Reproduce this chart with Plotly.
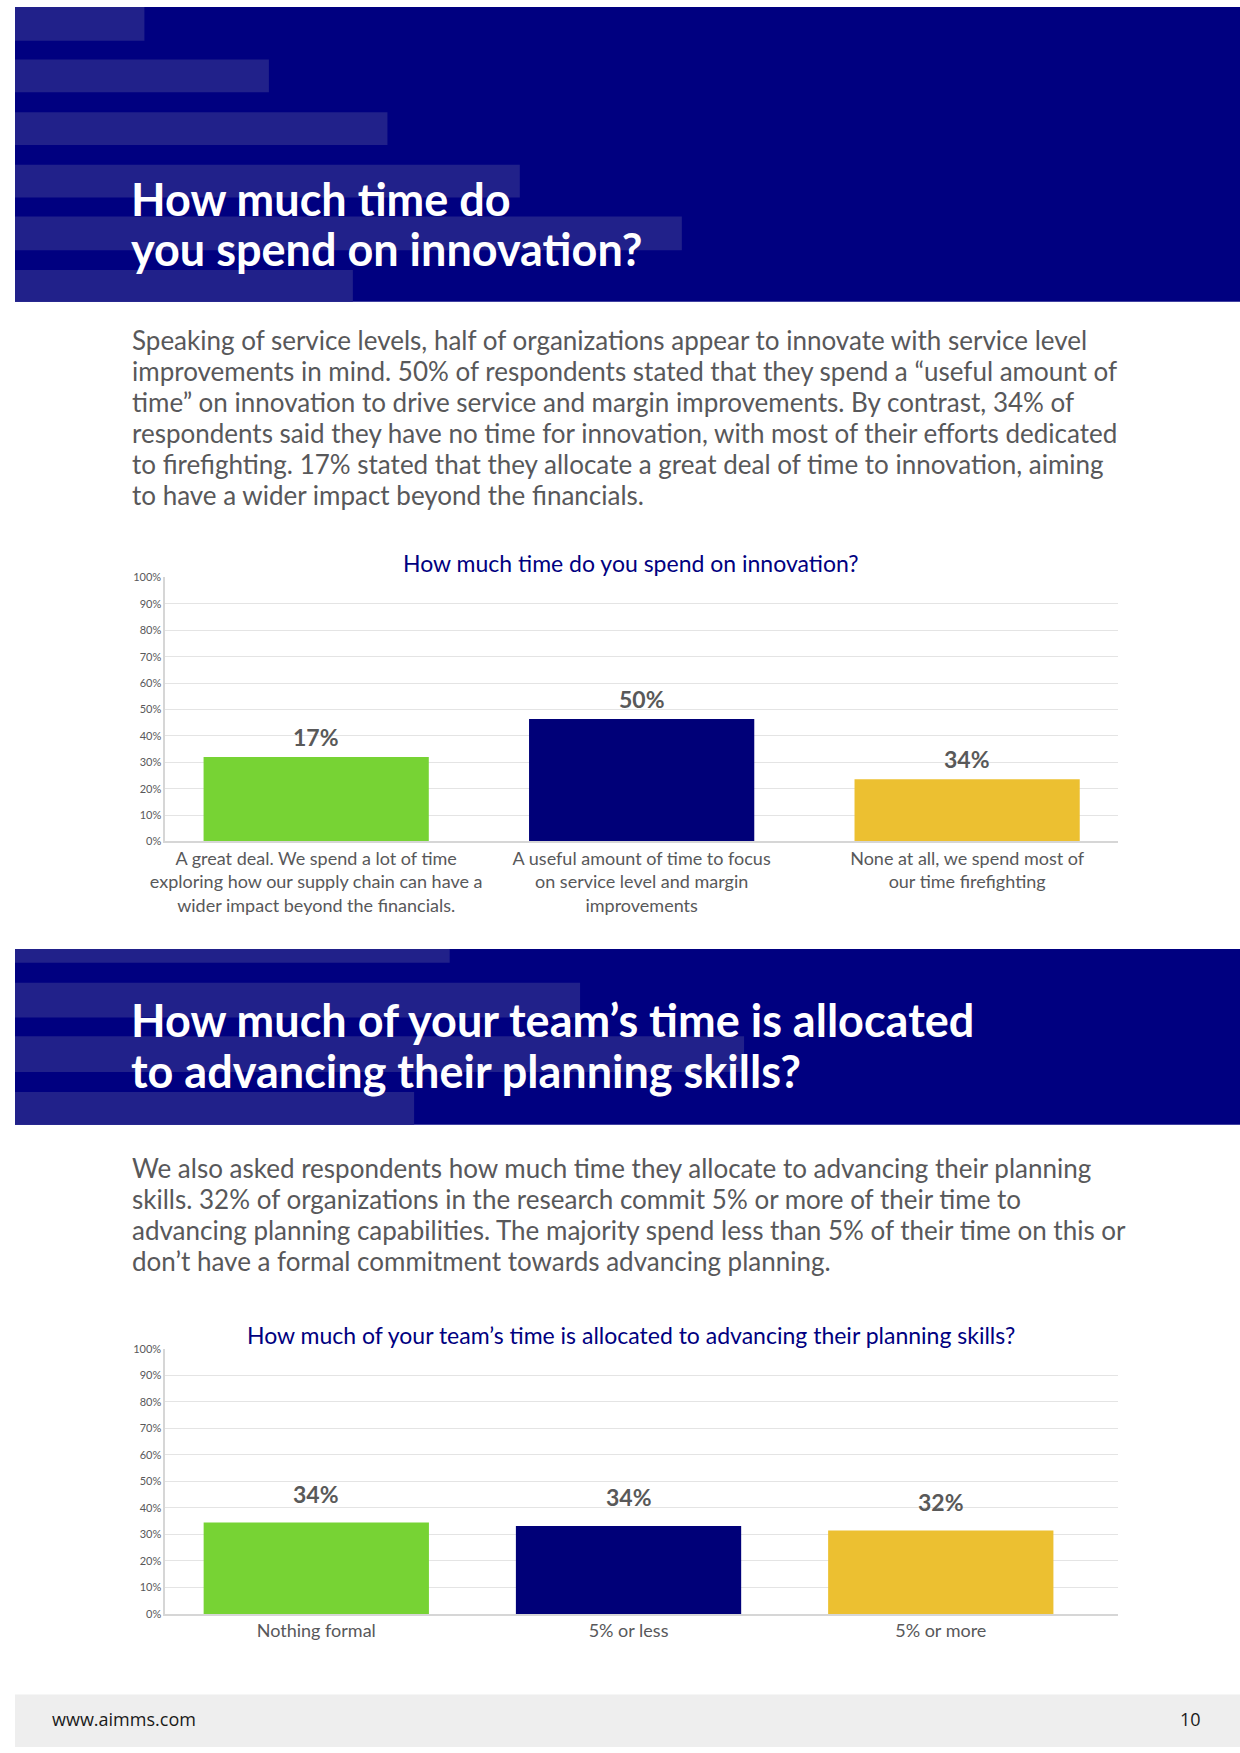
import plotly.graph_objects as go

W, H = 1240, 1753

# ---------------- data ----------------
chart1_title = "How much time do you spend on innovation?"
categories1 = [
    "A great deal. We spend a lot of time<br>exploring how our supply chain can have a<br>wider impact beyond the financials.",
    "A useful amount of time to focus<br>on service level and margin<br>improvements",
    "None at all, we spend most of<br>our time firefighting",
]
values1 = [32, 46.4, 23.6]          # bar heights as drawn
labels1 = ["17%", "50%", "34%"]     # printed labels

chart2_title = "How much of your team’s time is allocated to advancing their planning skills?"
categories2 = ["Nothing formal", "5% or less", "5% or more"]
values2 = [34.5, 33.2, 31.5]
labels2 = ["34%", "34%", "32%"]

bar_colors = ["#77D334", "#000078", "#ECC031"]
y_ticks = list(range(0, 101, 10))
y_ticktext = [f"{v}%" for v in y_ticks]

heading1 = ["How much time do", "you spend on innovation?"]
para1 = [
    "Speaking of service levels, half of organizations appear to innovate with service level",
    "improvements in mind. 50% of respondents stated that they spend a “useful amount of",
    "time” on innovation to drive service and margin improvements. By contrast, 34% of",
    "respondents said they have no time for innovation, with most of their efforts dedicated",
    "to firefighting. 17% stated that they allocate a great deal of time to innovation, aiming",
    "to have a wider impact beyond the financials.",
]
heading2 = ["How much of your team’s time is allocated", "to advancing their planning skills?"]
para2 = [
    "We also asked respondents how much time they allocate to advancing their planning",
    "skills. 32% of organizations in the research commit 5% or more of their time to",
    "advancing planning capabilities. The majority spend less than 5% of their time on this or",
    "don’t have a formal commitment towards advancing planning.",
]
footer_left = "www.aimms.com"
footer_right = "10"

# ---------------- helpers ----------------
def px(x):
    return x / W

def py(y):
    return 1 - y / H

NAVY = "#000080"
STRIPE = "#21218A"
GRAY = "#58585A"
FONT = "Lato"

fig = go.Figure()

fig.add_trace(go.Bar(x=categories1, y=values1, marker=dict(color=bar_colors, line=dict(width=0)),
                     width=0.692, xaxis="x", yaxis="y", showlegend=False, hoverinfo="skip"))
fig.add_trace(go.Bar(x=categories2, y=values2, marker=dict(color=bar_colors, line=dict(width=0)),
                     width=0.7215, xaxis="x2", yaxis="y2", showlegend=False, hoverinfo="skip"))

shapes = []
def rect(x0, y0, x1, y1, color):
    shapes.append(dict(type="rect", xref="paper", yref="paper", x0=px(x0), x1=px(x1),
                       y0=py(y1), y1=py(y0), fillcolor=color, line=dict(width=0), layer="below"))

# banner 1
rect(0, 0, W, 297, NAVY)
for (y0, y1, x1) in [(0, 34, 131), (53, 86, 257), (106, 139, 377), (159, 192, 511), (211, 245, 675), (265, 297, 342)]:
    rect(0, y0, x1, y1, STRIPE)
# banner 2
rect(0, 949, W, 1126, NAVY)
for (y0, y1, x1) in [(949, 963, 440), (983, 1018, 572), (1037, 1073, 738), (1093, 1126, 404)]:
    rect(0, y0, x1, y1, STRIPE)
# footer
rect(0, 1700, W, H, "#EEEEEE")

annotations = []
def text(x, y, s, size, color, bold=False, xanchor="left", family=FONT):
    annotations.append(dict(xref="paper", yref="paper", x=px(x), y=py(y), text=s, showarrow=False,
                            xanchor=xanchor, yanchor="middle",
                            font=dict(family=family, size=size, color=color,
                                      weight="bold" if bold else "normal")))

text(115, 193, heading1[0], 45, "white", bold=True)
text(115, 244, heading1[1], 45, "white", bold=True)
for i, line in enumerate(para1):
    text(116, 335 + i * 31.4, line, 26, GRAY)
text(624, 560, chart1_title, 23, NAVY, xanchor="center")

text(115, 1021, heading2[0], 45, "white", bold=True)
text(115, 1072, heading2[1], 45, "white", bold=True)
for i, line in enumerate(para2):
    text(116, 1170 + i * 31.2, line, 26, GRAY)
text(624, 1338, chart2_title, 23, NAVY, xanchor="center")

text(35, 1725, footer_left, 18, "#1A1A1A", family="Open Sans")
text(1203, 1725, footer_right, 18, "#1A1A1A", xanchor="right", family="Open Sans")

# value labels via axes
for c, v, l in zip(categories1, values1, labels1):
    annotations.append(dict(xref="x", yref="y", x=c, y=v, text=l, showarrow=False, yanchor="middle",
                            yshift=20, font=dict(family=FONT, size=23, color="#595959", weight="bold")))
for c, v, l in zip(categories2, values2, labels2):
    annotations.append(dict(xref="x2", yref="y2", x=c, y=v, text=l, showarrow=False, yanchor="middle",
                            yshift=29, font=dict(family=FONT, size=23, color="#595959", weight="bold")))

xdom = [px(152), px(1116)]
common_x = dict(domain=xdom, type="category", showgrid=False, zeroline=False, showline=True,
                linecolor="#D6D6D6", linewidth=1.5, ticks="", tickfont=dict(family=FONT, size=18, color=GRAY),
                fixedrange=True)
common_y = dict(range=[0, 100], tickmode="array", tickvals=y_ticks, ticktext=y_ticktext,
                showgrid=True, gridcolor="#E4E4E4",
                gridwidth=1, zeroline=False, showline=True, linecolor="#D6D6D6", linewidth=1.5, ticks="",
                tickfont=dict(family=FONT, size=11, color=GRAY), fixedrange=True)

fig.update_layout(
    width=W, height=H, autosize=False,
    margin=dict(l=0, r=0, t=0, b=0),
    paper_bgcolor="white", plot_bgcolor="white",
    bargap=0.3,
    xaxis=dict(common_x, anchor="y", range=[-0.464, 2.462]),
    yaxis=dict(common_y, anchor="x", domain=[py(840.7), py(574.7)]),
    xaxis2=dict(common_x, anchor="y2", range=[-0.484, 2.566]),
    yaxis2=dict(common_y, anchor="x2", domain=[py(1619), py(1352)]),
    shapes=shapes,
    annotations=annotations,
    showlegend=False,
)

fig.write_html("out.html", config={"displayModeBar": False},
               post_script="document.body.style.margin='0';document.body.style.overflow='hidden';")
